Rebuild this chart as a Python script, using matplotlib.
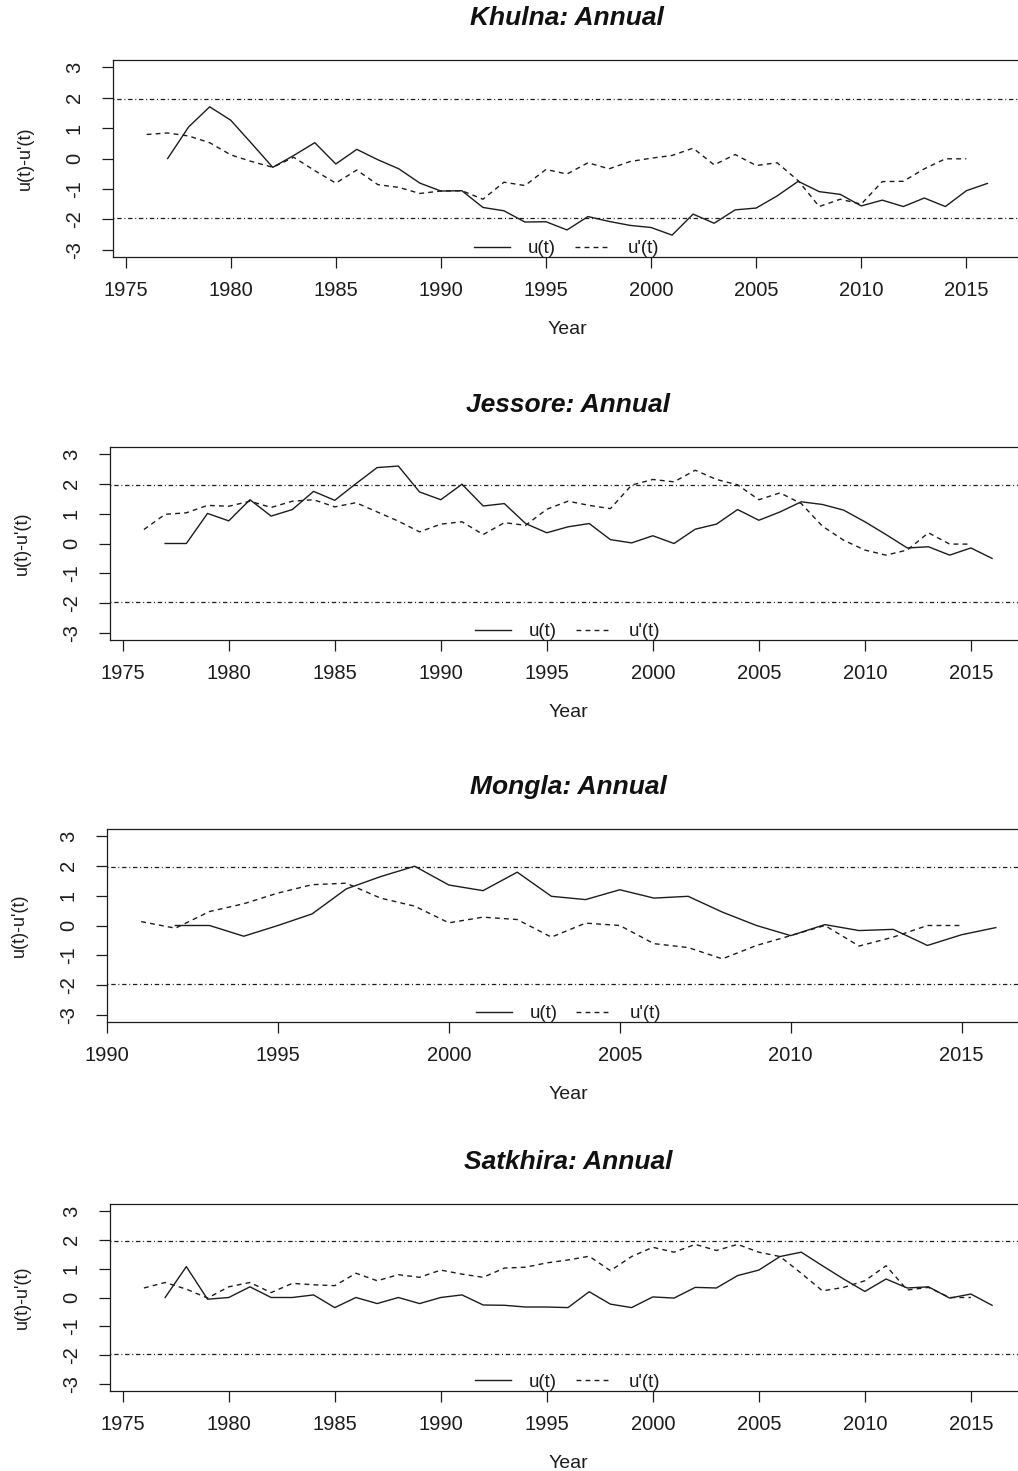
import matplotlib
matplotlib.use("Agg")
import matplotlib.pyplot as plt
from matplotlib.lines import Line2D

plt.rcParams['font.family'] = ['Liberation Sans', 'DejaVu Sans']
plt.rcParams['axes.unicode_minus'] = False

# ---- data: forward u(t) and backward u'(t) sequential Mann-Kendall statistics ----
khulna_u_years = list(range(1977, 2017))
khulna_u = [0.00, 1.04, 1.70, 1.26, 0.49, -0.29, 0.10, 0.52, -0.18, 0.30,
            -0.04, -0.34, -0.81, -1.07, -1.06, -1.61, -1.72, -2.09, -2.08, -2.35,
            -1.91, -2.07, -2.20, -2.27, -2.52, -1.83, -2.13, -1.69, -1.63, -1.23,
            -0.75, -1.09, -1.18, -1.56, -1.37, -1.58, -1.30, -1.58, -1.06, -0.82]
khulna_ub_years = list(range(1976, 2016))
khulna_ub = [0.79, 0.84, 0.74, 0.52, 0.12, -0.10, -0.29, 0.04, -0.40, -0.81,
             -0.38, -0.86, -0.95, -1.15, -1.07, -1.06, -1.34, -0.78, -0.89, -0.36,
             -0.51, -0.14, -0.34, -0.10, 0.01, 0.10, 0.34, -0.21, 0.13, -0.23,
             -0.14, -0.73, -1.58, -1.34, -1.50, -0.76, -0.75, -0.34, -0.01, -0.01]

jessore_u_years = list(range(1977, 2017))
jessore_u = [0.00, 0.00, 1.01, 0.76, 1.47, 0.92, 1.14, 1.75, 1.45, 2.01,
             2.55, 2.60, 1.73, 1.47, 1.99, 1.26, 1.34, 0.67, 0.36, 0.56,
             0.67, 0.13, 0.02, 0.26, 0.00, 0.48, 0.65, 1.14, 0.78, 1.06,
             1.40, 1.31, 1.12, 0.73, 0.30, -0.15, -0.11, -0.39, -0.15, -0.50]
jessore_ub_years = list(range(1976, 2016))
jessore_ub = [0.47, 0.98, 1.03, 1.28, 1.25, 1.42, 1.21, 1.42, 1.47, 1.23,
              1.37, 1.06, 0.75, 0.39, 0.65, 0.73, 0.30, 0.70, 0.61, 1.15,
              1.42, 1.28, 1.17, 1.96, 2.15, 2.07, 2.46, 2.15, 1.97, 1.47,
              1.70, 1.34, 0.58, 0.11, -0.22, -0.39, -0.22, 0.36, -0.02, -0.02]

mongla_u_years = list(range(1992, 2017))
mongla_u = [0.00, 0.00, -0.36, 0.00, 0.39, 1.23, 1.64, 1.99, 1.36, 1.17,
            1.79, 0.98, 0.87, 1.20, 0.92, 0.98, 0.45, 0.00, -0.34, 0.03,
            -0.17, -0.13, -0.67, -0.31, -0.07]
mongla_ub_years = list(range(1991, 2016))
mongla_ub = [0.13, -0.09, 0.47, 0.73, 1.09, 1.37, 1.42, 0.92, 0.65, 0.09,
             0.28, 0.20, -0.39, 0.08, 0.00, -0.61, -0.74, -1.12, -0.67, -0.34,
             0.00, -0.69, -0.39, 0.00, 0.00]

satkhira_u_years = list(range(1977, 2017))
satkhira_u = [0.00, 1.07, -0.06, 0.00, 0.37, 0.00, 0.00, 0.09, -0.35, 0.00,
              -0.21, 0.00, -0.21, 0.00, 0.09, -0.26, -0.27, -0.33, -0.33, -0.35,
              0.20, -0.23, -0.35, 0.02, -0.02, 0.35, 0.33, 0.76, 0.95, 1.42,
              1.57, 1.10, 0.64, 0.21, 0.64, 0.33, 0.37, -0.02, 0.12, -0.27]
satkhira_ub_years = list(range(1976, 2016))
satkhira_ub = [0.33, 0.52, 0.29, -0.02, 0.37, 0.52, 0.17, 0.49, 0.44, 0.41,
               0.84, 0.58, 0.79, 0.70, 0.95, 0.81, 0.70, 1.02, 1.05, 1.20,
               1.30, 1.43, 0.93, 1.42, 1.74, 1.57, 1.84, 1.63, 1.84, 1.57,
               1.42, 0.84, 0.23, 0.35, 0.58, 1.10, 0.26, 0.35, 0.00, 0.00]

titles = ["Khulna: Annual", "Jessore: Annual", "Mongla: Annual", "Satkhira: Annual"]
xticks_long = [1975, 1980, 1985, 1990, 1995, 2000, 2005, 2010, 2015]
xticks_short = [1990, 1995, 2000, 2005, 2010, 2015]
yticks = [-3, -2, -1, 0, 1, 2, 3]
critical = [-1.96, 1.96]

panels = [
    (khulna_u_years, khulna_u, khulna_ub_years, khulna_ub, xticks_long, (1974.4, 2017.6)),
    (jessore_u_years, jessore_u, jessore_ub_years, jessore_ub, xticks_long, (1974.4, 2017.6)),
    (mongla_u_years, mongla_u, mongla_ub_years, mongla_ub, xticks_short, (1990.0, 2017.0)),
    (satkhira_u_years, satkhira_u, satkhira_ub_years, satkhira_ub, xticks_long, (1974.4, 2017.6)),
]

# panel boxes in pixels: left, right, top, bottom
W, H = 1018, 1471
boxes = [(113, 1021, 60, 257), (110, 1026, 447, 640),
         (107, 1030, 829, 1022), (110, 1026, 1204, 1391)]

ink = "#1c1c1c"
fig = plt.figure(figsize=(W / 100, H / 100), dpi=100)

for (uy, u, by, ub, xt, xl), title, (l, r, t, b) in zip(panels, titles, boxes):
    ax = fig.add_axes([l / W, 1 - b / H, (r - l) / W, (b - t) / H])
    ax.plot(uy, u, color=ink, lw=1.0, ls='-')
    ax.plot(by, ub, color=ink, lw=1.0, ls=(0, (3.5, 3)))
    for c in critical:
        ax.axhline(c, color=ink, lw=0.9, ls=(0, (0.8, 2.2, 3.5, 2.2)))
    ax.set_xlim(*xl)
    ax.set_ylim(-3.24, 3.24)
    ax.set_xticks(xt)
    ax.set_yticks(yticks)
    ax.tick_params(axis='both', direction='out', length=8, width=0.9,
                   color=ink, labelcolor=ink, labelsize=14.5)
    ax.tick_params(axis='x', pad=9)
    ax.tick_params(axis='y', pad=13)
    for lab in ax.get_yticklabels():
        lab.set_rotation(90)
        lab.set_va('center')
    for s in ax.spines.values():
        s.set_color(ink)
        s.set_linewidth(0.9)

    ax.annotate(title, xy=(0.5, 1), xycoords='axes fraction',
                xytext=(0, 30), textcoords='offset points',
                ha='center', va='center', fontsize=19,
                fontweight='bold', fontstyle='italic', color='#111111')
    ax.annotate("Year", xy=(0.5, 0), xycoords='axes fraction',
                xytext=(0, -52), textcoords='offset points',
                ha='center', va='center', fontsize=14, color=ink)
    ax.annotate("u(t)-u'(t)", xy=(0, 0.5), xycoords='axes fraction',
                xytext=(-63, 0), textcoords='offset points',
                ha='center', va='center', rotation=90, fontsize=13, color=ink)

    handles = [Line2D([], [], color=ink, lw=1.0, ls='-'),
               Line2D([], [], color=ink, lw=1.0, ls=(0, (3.5, 3)))]
    ax.legend(handles, ["u(t)", "u'(t)"], loc='lower center',
              bbox_to_anchor=(0.5, -0.015), ncol=2, frameon=False,
              fontsize=13.5, handlelength=1.9, handletextpad=0.95,
              columnspacing=1.0, borderaxespad=0, borderpad=0.15,
              labelcolor=ink)

fig.savefig("out.png", dpi=100, facecolor='white')
